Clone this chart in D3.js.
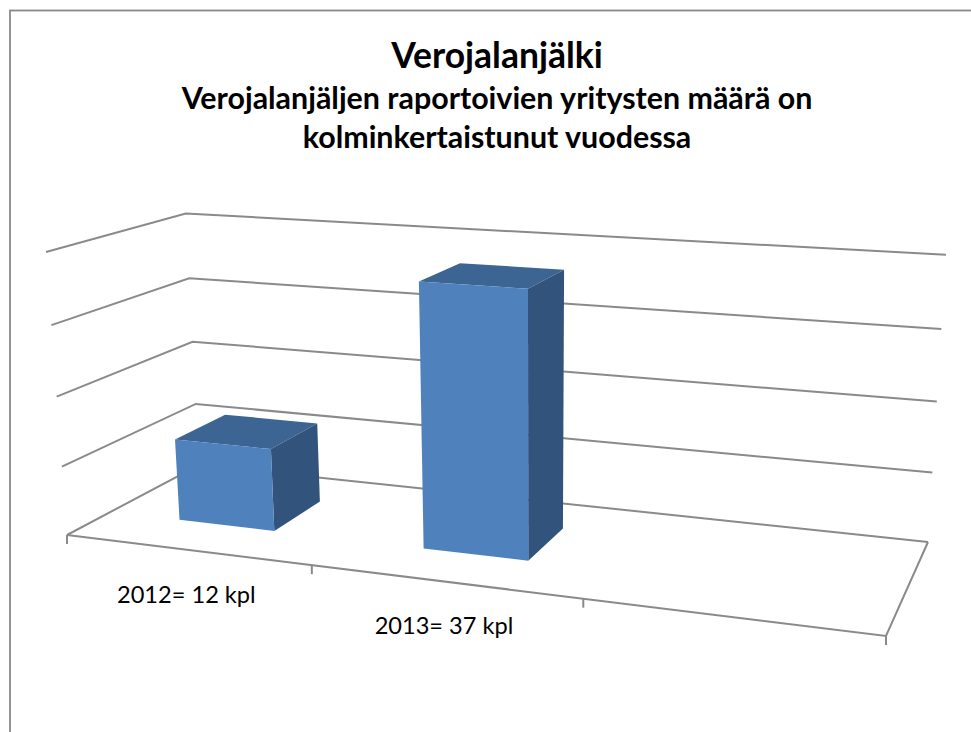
<!DOCTYPE html>
<html lang="en">
<head>
<meta charset="UTF-8">
<title>Verojalanjälki</title>
<script src="https://d3js.org/d3.v7.min.js"></script>
<style>
html, body { margin: 0; padding: 0; background: white; overflow: hidden; }
text { font-family: Lato, 'Open Sans', sans-serif; fill: black; }
.title { font-weight: bold; text-anchor: middle; }
.grid { fill: none; stroke: #8a8a8a; stroke-width: 2; stroke-linejoin: miter; }
</style>
</head>
<body>
<div id="chart"></div>
<script>

// data
const categories = ["2012= 12 kpl", "2013= 37 kpl", ""];
const values = [12, 37, null];
const yTicks = [0, 10, 20, 30, 40];
const titleLines = ["Verojalanjälki", "Verojalanjäljen raportoivien yritysten määrä on", "kolminkertaistunut vuodessa"];

const width = 971, height = 732;

const svg = d3.select("#chart").append("svg")
  .attr("width", width)
  .attr("height", height);

// chart border runs off the right and bottom of the picture
svg.append("rect")
  .attr("x", 10).attr("y", 10.5)
  .attr("width", width + 20).attr("height", height + 20)
  .attr("fill", "white")
  .attr("stroke", "#898989")
  .attr("stroke-width", 1.8);

// --------------------------------------
// Perspective: floor quad plus one vertical vector, in homogeneous coords
// --------------------------------------
function quadMap(p00, p10, p11, p01) {
  const dx1 = p10[0] - p11[0], dx2 = p01[0] - p11[0], sx = p00[0] - p10[0] + p11[0] - p01[0];
  const dy1 = p10[1] - p11[1], dy2 = p01[1] - p11[1], sy = p00[1] - p10[1] + p11[1] - p01[1];
  const den = dx1 * dy2 - dx2 * dy1;
  const g = (sx * dy2 - dx2 * sy) / den;
  const h = (dx1 * sy - sx * dy1) / den;
  const a = p10[0] - p00[0] + g * p10[0], b = p01[0] - p00[0] + h * p01[0], c = p00[0];
  const d = p10[1] - p00[1] + g * p10[1], e = p01[1] - p00[1] + h * p01[1], f = p00[1];
  return (u, v) => [a * u + b * v + c, d * u + e * v + f, g * u + h * v + 1];
}

const floorMap = quadMap([67, 535], [886, 636], [928, 542], [199, 465]);
const rise = [-23, -293.8, -0.043];

// scales in model space
const x = d3.scaleBand().domain(categories).range([0, 1]).paddingInner(0.6).paddingOuter(0.3);
const xEdge = d3.scaleLinear().domain([0, categories.length]).range([0, 1]);
const y = d3.scaleLinear().domain([0, 40]).range([0, 1]);

function project(u, depth, value) {
  const t = y(value);
  const p = floorMap(u, depth);
  const w = p[2] + rise[2] * t;
  return [(p[0] + rise[0] * t) / w, (p[1] + rise[1] * t) / w];
}

const line = d3.line();

// --------------------------------------
// Walls and floor
// --------------------------------------
svg.selectAll(".gridline")
  .data(yTicks)
  .join("path")
  .attr("class", "grid gridline")
  .attr("d", d => line([project(0, 0, d), project(0, 1, d), project(1, 1, d)]));

svg.append("path")
  .attr("class", "grid")
  .attr("d", line([project(0, 0, 0), project(1, 0, 0), project(1, 1, 0)]));

// ticks under the front edge
svg.selectAll(".tick")
  .data(d3.range(categories.length + 1))
  .join("path")
  .attr("class", "grid tick")
  .attr("d", d => {
    const p = project(xEdge(d), 0, 0);
    return line([p, [p[0], p[1] + 9]]);
  });

// --------------------------------------
// Bars
// --------------------------------------
const depth0 = 0.305, depth1 = 0.70;
const bars = categories.map((c, i) => ({ c, v: values[i] })).filter(d => d.v != null);

function face(d, pts) {
  return line(pts.map(p => project(x(d.c) + p[0] * x.bandwidth(), p[1], p[2] * d.v))) + "Z";
}

const bar = svg.selectAll(".bar").data(bars).join("g").attr("class", "bar");

bar.append("path").attr("fill", "#3d6594")
  .attr("d", d => face(d, [[0, depth0, 1], [1, depth0, 1], [1, depth1, 1], [0, depth1, 1]]));
bar.append("path").attr("fill", "#32547c")
  .attr("d", d => face(d, [[1, depth0, 0], [1, depth1, 0], [1, depth1, 1], [1, depth0, 1]]));
bar.append("path").attr("fill", "#4f81bd")
  .attr("d", d => face(d, [[0, depth0, 0], [1, depth0, 0], [1, depth0, 1], [0, depth0, 1]]));

// --------------------------------------
// Category labels
// --------------------------------------
svg.selectAll(".cat")
  .data(categories)
  .join("text")
  .attr("class", "cat")
  .attr("text-anchor", "middle")
  .attr("font-size", 23.6)
  .attr("x", d => project(x(d) + x.bandwidth() / 2, 0, 0)[0])
  .attr("y", d => project(x(d) + x.bandwidth() / 2, 0, 0)[1] + 53)
  .text(d => d);

// --------------------------------------
// Title
// --------------------------------------
svg.selectAll(".title")
  .data(titleLines)
  .join("text")
  .attr("class", "title")
  .attr("x", 497)
  .attr("y", (d, i) => [68, 109, 148][i])
  .attr("font-size", (d, i) => i === 0 ? 35.5 : 30.4)
  .text(d => d);

</script>
</body>
</html>
